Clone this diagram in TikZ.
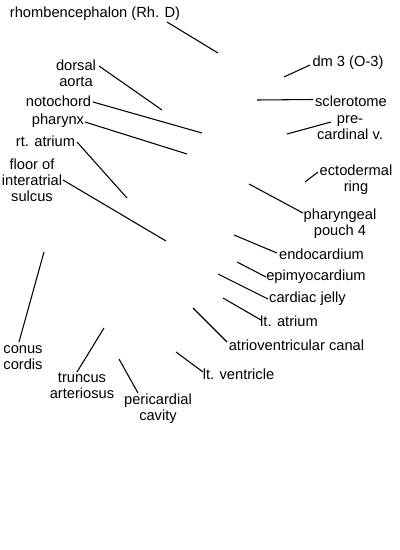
\documentclass[tikz,border=0pt]{standalone}
\usepackage{fontspec}
\setmainfont{Liberation Sans}
\begin{document}
\begin{tikzpicture}[x=0.75pt,y=-0.75pt,
  lbl/.style={inner sep=0pt, align=center, font=\fontsize{11}{12}\selectfont},
  ln/.style={line width=0.8pt, black}]
\useasboundingbox (0,0) rectangle (400,550);
% labels
\node[lbl] (rh) at (95,14) {rhombencephalon (Rh. D)};
\node[lbl] (da) at (76,73) {dorsal\\aorta};
\node[lbl] (no) at (58.5,101) {notochord};
\node[lbl] (ph) at (58,121) {pharynx};
\node[lbl] (ra) at (45.5,141) {rt. atrium};
\node[lbl] (fl) at (32,180) {floor of\\interatrial\\sulcus};
\node[lbl] (dm) at (348,63) {dm 3 (O-3)};
\node[lbl] (sc) at (351,101) {sclerotome};
\node[lbl] (pc) at (350,128) {pre-\\cardinal v.};
\node[lbl] (ec) at (356,180) {ectodermal\\ring};
\node[lbl] (pp) at (340,224) {pharyngeal\\pouch 4};
\node[lbl] (en) at (321.5,254) {endocardium};
\node[lbl] (ep) at (316,277) {epimyocardium};
\node[lbl] (cj) at (307.5,299) {cardiac jelly};
\node[lbl] (la) at (289,321) {lt. atrium};
\node[lbl] (av) at (296.5,345) {atrioventricular canal};
\node[lbl] (lv) at (238.5,374) {lt. ventricle};
\node[lbl] (cc) at (23,358) {conus\\cordis};
\node[lbl] (ta) at (82,386) {truncus\\arteriosus};
\node[lbl] (pca) at (158,409) {pericardial\\cavity};
% connector ends
\coordinate (rh-s) at (167,22);  \coordinate (rh-e) at (218,53);
\coordinate (da-s) at (99,66);   \coordinate (da-e) at (162,110);
\coordinate (no-s) at (93,102);  \coordinate (no-e) at (202,133);
\coordinate (ph-s) at (85,122);  \coordinate (ph-e) at (187,154);
\coordinate (ra-s) at (77,142);  \coordinate (ra-e) at (127,198);
\coordinate (fl-s) at (63,180);  \coordinate (fl-e) at (166,241);
\coordinate (dm-s) at (310,65);  \coordinate (dm-e) at (284,77);
\coordinate (sc-s) at (313,99.5);\coordinate (sc-e) at (257,100);
\coordinate (pc-s) at (331,122); \coordinate (pc-e) at (287,134);
\coordinate (ec-s) at (318,172); \coordinate (ec-e) at (305,182);
\coordinate (pp-s) at (303,213); \coordinate (pp-e) at (249,184);
\coordinate (en-s) at (277,253); \coordinate (en-e) at (234,235);
\coordinate (ep-s) at (266,277); \coordinate (ep-e) at (237,262);
\coordinate (cj-s) at (268,299); \coordinate (cj-e) at (218,274);
\coordinate (la-s) at (261,320); \coordinate (la-e) at (223,298);
\coordinate (av-s) at (227,342); \coordinate (av-e) at (193,308);
\coordinate (lv-s) at (203,372); \coordinate (lv-e) at (176,352);
\coordinate (cc-s) at (19,342);  \coordinate (cc-e) at (44,252);
\coordinate (ta-s) at (77,372);  \coordinate (ta-e) at (104,328);
\coordinate (pca-s) at (138,393);\coordinate (pca-e) at (119,359);
% connectors
\foreach \n in {rh,da,no,ph,ra,fl,dm,sc,pc,ec,pp,en,ep,cj,la,av,lv,cc,ta,pca}
  \draw[ln] (\n-s) -- (\n-e);
\end{tikzpicture}
\end{document}
